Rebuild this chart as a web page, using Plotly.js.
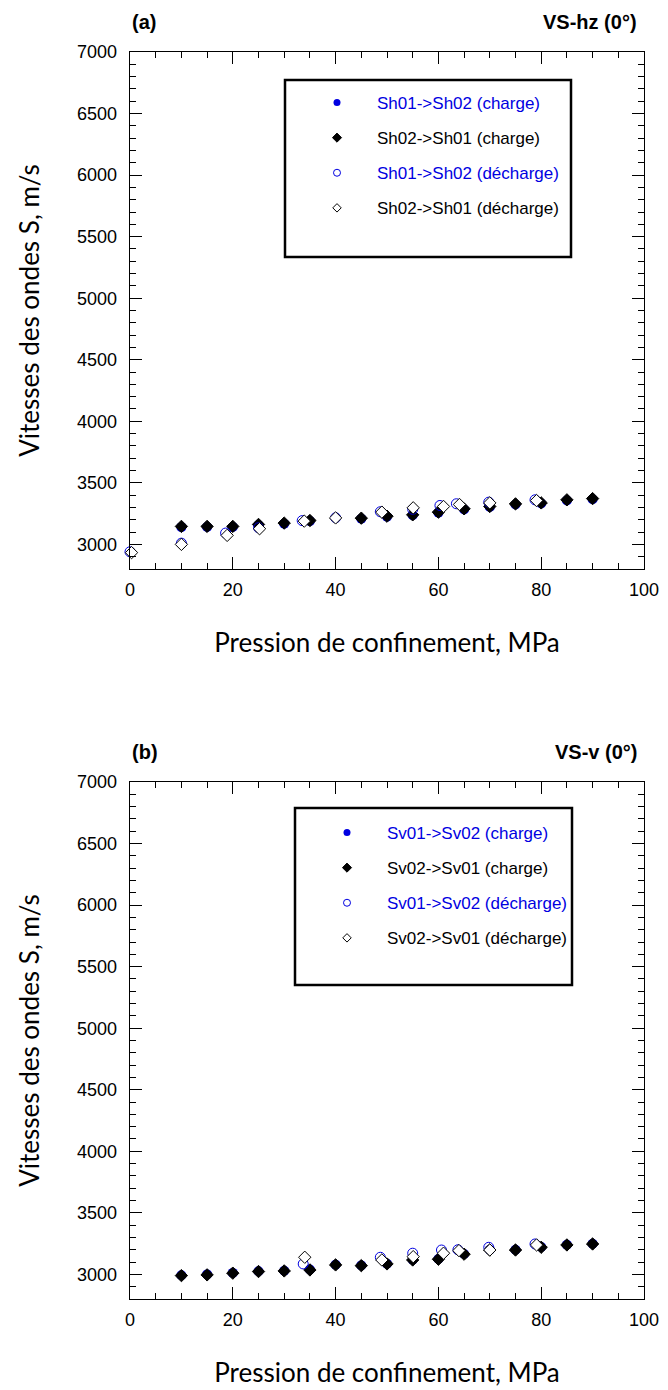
<!DOCTYPE html>
<html>
<head>
<meta charset="utf-8">
<script src="https://cdn.plot.ly/plotly-3.0.1.min.js"></script>
<style>html,body{margin:0;padding:0;background:#fff;}#chart{width:668px;height:1390px;}</style>
</head>
<body>
<div id="chart"></div>
<script>
// ---------- Panel (a) : VS-hz (0°) ----------
const aChargeP   = [10, 15, 20, 25, 30, 35, 45, 50, 55, 60, 65, 70, 75, 80, 85, 90];
const aSh12Charge = [3140, 3141, 3141, 3157, 3168, 3189, 3208, 3224, 3236, 3257, 3284, 3303, 3324, 3332, 3357, 3367];
const aSh21Charge = [3146, 3146, 3146, 3162, 3173, 3194, 3213, 3229, 3240, 3262, 3289, 3308, 3329, 3337, 3362, 3372];
const aSh12DechP  = [0, 10, 18.6, 25, 33.5, 40, 48.7, 55, 60.3, 63.5, 69.8, 78.8];
const aSh12Dech   = [2940, 3010, 3092, 3135, 3193, 3216, 3265, 3285, 3316, 3330, 3343, 3362];
const aSh21DechP  = [0.3, 10, 18.9, 25.2, 33.9, 40, 49, 55.1, 61, 64.1, 70, 79.1];
const aSh21Dech   = [2933, 3000, 3073, 3127, 3189, 3215, 3262, 3297, 3308, 3324, 3337, 3356];

// ---------- Panel (b) : VS-v (0°) ----------
const bChargeP    = [10, 15, 20, 25, 30, 35, 40, 45, 50, 55, 60, 65, 70, 75, 80, 85, 90];
const bSv12Charge = [2993, 3000, 3012, 3025, 3030, 3039, 3079, 3073, 3087, 3119, 3125, 3166, 3200, 3200, 3222, 3241, 3249];
const bSv21Charge = [2990, 2996, 3010, 3023, 3028, 3036, 3077, 3071, 3085, 3117, 3123, 3164, 3198, 3198, 3220, 3239, 3247];
const bSv12DechP  = [33.7, 48.7, 55, 60.6, 63.8, 69.8, 78.8];
const bSv12Dech   = [3085, 3139, 3172, 3198, 3200, 3220, 3247];
const bSv21DechP  = [34, 49, 55.1, 61, 64, 70, 79.1];
const bSv21Dech   = [3139, 3117, 3144, 3172, 3193, 3198, 3239];

const aNames = ['Sh01->Sh02 (charge)', 'Sh02->Sh01 (charge)', 'Sh01->Sh02 (décharge)', 'Sh02->Sh01 (décharge)'];
const bNames = ['Sv01->Sv02 (charge)', 'Sv02->Sv01 (charge)', 'Sv01->Sv02 (décharge)', 'Sv02->Sv01 (décharge)'];
const panelTitlesLeft  = ['(a)', '(b)'];
const panelTitlesRight = ['VS-hz (0°)', 'VS-v (0°)'];
const xTitle = 'Pression de confinement, MPa';
const yTitle = 'Vitesses des ondes S, m/s';

const BLUE = 'rgb(0,0,225)';
const styles = [
  {symbol: 'circle', color: BLUE, line: {color: BLUE, width: 0}, txt: BLUE},
  {symbol: 'diamond', color: '#000', line: {color: '#000', width: 1}, txt: '#000'},
  {symbol: 'circle-open', color: BLUE, line: {color: BLUE, width: 1}, txt: BLUE},
  {symbol: 'diamond', color: '#fff', line: {color: '#000', width: 1}, txt: '#000'}
];
const dataSize = [10, 9.5, 10, 9.5];
const legSize = [7, 7, 7, 6.5];

function dataTrace(x, y, i, xa, ya) {
  const s = styles[i];
  return {x: x, y: y, xaxis: xa, yaxis: ya, type: 'scatter', mode: 'markers', showlegend: false,
    hoverinfo: 'x+y', cliponaxis: false,
    marker: {symbol: s.symbol, size: dataSize[i], color: s.color, line: s.line}};
}
function legTrace(name, i, xa, ya, leg) {
  const s = styles[i];
  return {x: [null], y: [null], xaxis: xa, yaxis: ya, type: 'scatter', mode: 'markers',
    name: '<span style="color:' + s.txt + '">' + name + '</span>',
    legend: leg, legendgroup: leg + i, showlegend: true,
    marker: {symbol: s.symbol, size: legSize[i], color: s.color, line: s.line}};
}

const traces = [
  dataTrace(aChargeP, aSh12Charge, 0, 'x', 'y'),
  dataTrace(aChargeP, aSh21Charge, 1, 'x', 'y'),
  dataTrace(aSh12DechP, aSh12Dech, 2, 'x', 'y'),
  dataTrace(aSh21DechP, aSh21Dech, 3, 'x', 'y'),
  dataTrace(bChargeP, bSv12Charge, 0, 'x2', 'y2'),
  dataTrace(bChargeP, bSv21Charge, 1, 'x2', 'y2'),
  dataTrace(bSv12DechP, bSv12Dech, 2, 'x2', 'y2'),
  dataTrace(bSv21DechP, bSv21Dech, 3, 'x2', 'y2')
];
aNames.forEach((n, i) => traces.push(legTrace(n, i, 'x', 'y', 'legend')));
bNames.forEach((n, i) => traces.push(legTrace(n, i, 'x2', 'y2', 'legend2')));

const W = 668, H = 1390, L = 130, R = 24;
const px2x = p => (p - L) / (W - L - R);
const py2y = p => 1 - p / H;

const tickFont = {family: 'Liberation Sans, Arial, sans-serif', size: 18, color: '#000'};
const titleFont = {family: 'Lato, Carlito, sans-serif', size: 26, color: '#000'};

function xAxis(anchor) {
  return {anchor: anchor, domain: [0, 1], range: [0, 100], tick0: 0, dtick: 20,
    ticks: 'inside', ticklen: 12, tickwidth: 1, tickcolor: '#000',
    minor: {dtick: 5, ticks: 'inside', ticklen: 6, tickwidth: 1, tickcolor: '#000', showgrid: false},
    showline: true, linecolor: '#000', linewidth: 1.3, mirror: 'ticks',
    showgrid: false, zeroline: false, tickfont: tickFont, ticklabelstandoff: 4,
    title: {text: xTitle, font: titleFont, standoff: 35}};
}
function yAxis(anchor, dom) {
  return {anchor: anchor, domain: dom, range: [2800, 7000], tick0: 0, dtick: 500,
    ticks: 'inside', ticklen: 12, tickwidth: 1, tickcolor: '#000',
    minor: {dtick: 100, ticks: 'inside', ticklen: 6, tickwidth: 1, tickcolor: '#000', showgrid: false},
    showline: true, linecolor: '#000', linewidth: 1.3, mirror: 'ticks',
    showgrid: false, zeroline: false, tickfont: tickFont, ticklabelstandoff: 8,
    title: {text: yTitle, font: titleFont, standoff: 30}};
}

const legFont = {family: 'Liberation Sans, Arial, sans-serif', size: 17, color: '#000'};
function legend(xp, yp) {
  return {x: px2x(xp), y: py2y(yp), xanchor: 'left', yanchor: 'top', xref: 'paper', yref: 'paper',
    bgcolor: 'rgba(0,0,0,0)', borderwidth: 0, font: legFont, tracegroupgap: 10,
    itemwidth: 70, traceorder: 'grouped'};
}

const annFont = {family: 'Liberation Sans, Arial, sans-serif', size: 20, color: '#000', weight: 'bold'};
const annotations = [
  {text: '<b>' + panelTitlesLeft[0] + '</b>', x: px2x(130), y: py2y(22), xanchor: 'left', yanchor: 'middle'},
  {text: '<b>' + panelTitlesRight[0] + '</b>', x: px2x(639), y: py2y(22), xanchor: 'right', yanchor: 'middle'},
  {text: '<b>' + panelTitlesLeft[1] + '</b>', x: px2x(130), y: py2y(752), xanchor: 'left', yanchor: 'middle'},
  {text: '<b>' + panelTitlesRight[1] + '</b>', x: px2x(639), y: py2y(752), xanchor: 'right', yanchor: 'middle'}
].map(a => Object.assign({xref: 'paper', yref: 'paper', showarrow: false, font: annFont}, a));

const shapes = [
  {type: 'rect', xref: 'paper', yref: 'paper', x0: px2x(285), x1: px2x(571), y0: py2y(257), y1: py2y(80), line: {color: '#000', width: 2.5}},
  {type: 'rect', xref: 'paper', yref: 'paper', x0: px2x(295), x1: px2x(572), y0: py2y(985), y1: py2y(808), line: {color: '#000', width: 2.5}}
];

const layout = {
  width: W, height: H, margin: {l: L, r: R, t: 0, b: 0},
  paper_bgcolor: '#fff', plot_bgcolor: '#fff',
  showlegend: true,
  xaxis: xAxis('y'), yaxis: yAxis('x', [py2y(569), py2y(52)]),
  xaxis2: xAxis('y2'), yaxis2: yAxis('x2', [py2y(1299), py2y(782)]),
  legend: legend(297, 85), legend2: legend(307, 815),
  annotations: annotations, shapes: shapes
};

Plotly.newPlot('chart', traces, layout, {displayModeBar: false, staticPlot: true});
</script>
</body>
</html>
